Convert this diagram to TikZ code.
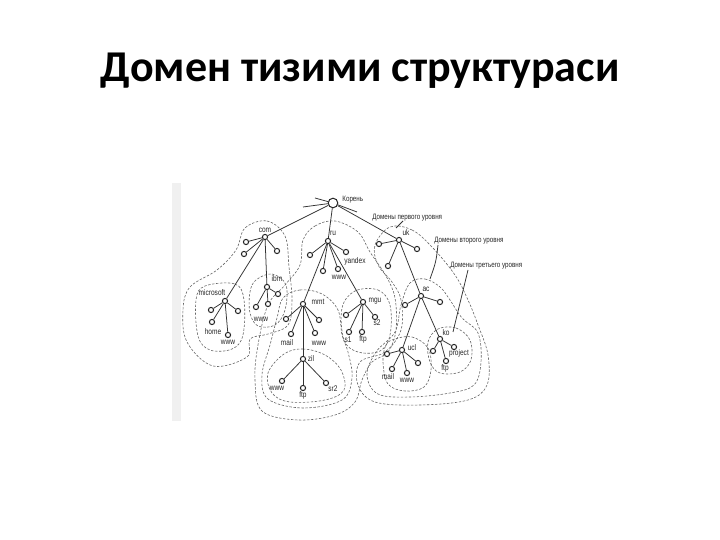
\documentclass[tikz,border=0pt]{standalone}
\usepackage{fontspec}
\setmainfont{Carlito}
\newfontfamily\lab[FakeStretch=0.8]{Liberation Sans}
\tikzset{
 dn/.style={circle,draw=black!85,line width=0.5pt,inner sep=0pt,minimum size=2.6pt,fill=white},
 rootn/.style={dn,minimum size=4.8pt},
 edge/.style={draw=black!80,line width=0.38pt},
 bnd/.style={draw=black!60,line width=0.3pt,dash pattern=on 1.2pt off 0.8pt},
 lbl/.style={font=\lab\fontsize{4.1}{4.5}\selectfont,inner sep=0pt,text=black!85},
 ann/.style={font=\lab\fontsize{3.9}{4.5}\selectfont,inner sep=0pt,text=black!85,anchor=west},
}
\begin{document}
\begin{tikzpicture}[x=0.5pt,y=-0.5pt]
\useasboundingbox (0,0) rectangle (720,540);
\fill[white] (0,0) rectangle (720,540);
\node[font=\bfseries\fontsize{22}{26}\selectfont,anchor=base] (title) at (360,82) {Домен тизими структураси};
% scan edge
\fill[black!6] (172,183) rectangle (181,421);

% boundaries
\draw[bnd] plot[smooth cycle,tension=0.6] coordinates {(245,228) (267,221) (285,236) (289,267) (292,300) (288,325) (268,334) (250,339) (247,357) (213,366) (187,342) (183,310) (190,287) (217,270) (236,250)};
\draw[bnd] plot[smooth cycle,tension=0.6] coordinates {(205,286) (235,284) (244,300) (243,335) (232,349) (210,350) (198,336) (196,300)};
\draw[bnd] plot[smooth cycle,tension=0.6] coordinates {(256,280) (272,274) (286,285) (285,310) (275,325) (258,326) (250,313) (250,292)};
\draw[bnd] plot[smooth cycle,tension=0.6] coordinates {(303,240) (315,226) (335,221) (358,232) (370,252) (386,276) (395,298) (396,330) (388,352) (372,362) (362,380) (355,402) (335,415) (298,420) (262,411) (255,380) (258,345) (268,305) (285,285) (300,265)};
\draw[bnd] plot[smooth cycle,tension=0.6] coordinates {(283,298) (300,290) (322,294) (338,310) (342,335) (348,352) (352,378) (342,400) (303,408) (268,399) (262,375) (270,345) (277,318)};
\draw[bnd] plot[smooth cycle,tension=0.6] coordinates {(284,354) (303,349) (325,355) (341,370) (344,390) (325,400) (290,402) (272,393) (268,373)};
\draw[bnd] plot[smooth cycle,tension=0.6] coordinates {(355,291) (378,290) (390,305) (390,335) (380,351) (358,352) (344,340) (342,308)};
\draw[bnd] plot[smooth cycle,tension=0.6] coordinates {(390,227) (412,230) (432,247) (455,275) (468,300) (478,325) (488,355) (487,385) (468,400) (420,405) (375,402) (358,385) (360,362) (385,352) (401,330) (401,300) (392,282) (378,265) (375,245)};
\draw[bnd] plot[smooth cycle,tension=0.6] coordinates {(410,283) (425,279) (440,287) (450,300) (462,318) (478,333) (481,362) (474,385) (450,393) (410,397) (378,394) (367,375) (376,352) (395,332) (401,305)};
\draw[bnd] plot[smooth cycle,tension=0.6] coordinates {(395,339) (412,337) (428,348) (431,370) (424,387) (405,391) (388,384) (383,362) (386,345)};
\draw[bnd] plot[smooth cycle,tension=0.6] coordinates {(438,329) (456,328) (470,340) (471,360) (460,372) (440,373) (430,362) (428,342)};

% nodes
\node[rootn] (root) at (333,203) {};
\node[dn] (com) at (265,237) {};
\node[dn] (ru) at (328,241) {};
\node[dn] (uk) at (399,240) {};
\node[dn] (c1) at (246,242) {};
\node[dn] (c2) at (244,254) {};
\node[dn] (c3) at (277,251) {};
\node[dn] (ms) at (225,301) {};
\node[dn] (ms1) at (211,310) {};
\node[dn] (ms2) at (238,311) {};
\node[dn] (ms3) at (212,322) {};
\node[dn] (ms4) at (228,335) {};
\node[dn] (ibm) at (267,287) {};
\node[dn] (ib1) at (256,307) {};
\node[dn] (ib2) at (268,304) {};
\node[dn] (ib3) at (278,294) {};
\node[dn] (r1) at (310,255) {};
\node[dn] (r2) at (323,271) {};
\node[dn] (r3) at (338,269) {};
\node[dn] (r4) at (346,252) {};
\node[dn] (mmt) at (303,304) {};
\node[dn] (m1) at (286,319) {};
\node[dn] (m2) at (319,320) {};
\node[dn] (m3) at (291,334) {};
\node[dn] (m4) at (315,333) {};
\node[dn] (zil) at (303,359) {};
\node[dn] (z1) at (282,381) {};
\node[dn] (z2) at (303,388) {};
\node[dn] (z3) at (326,383) {};
\node[dn] (mgu) at (363,302) {};
\node[dn] (g1) at (346,315) {};
\node[dn] (g2) at (375,317) {};
\node[dn] (g3) at (349,332) {};
\node[dn] (g4) at (362,332) {};
\node[dn] (u1) at (379,244) {};
\node[dn] (u2) at (417,249) {};
\node[dn] (u3) at (388,266) {};
\node[dn] (ac) at (421,296) {};
\node[dn] (a1) at (405,305) {};
\node[dn] (a2) at (440,302) {};
\node[dn] (ucl) at (402,350) {};
\node[dn] (l1) at (387,354) {};
\node[dn] (l2) at (418,363) {};
\node[dn] (l3) at (392,369) {};
\node[dn] (l4) at (407,373) {};
\node[dn] (ko) at (440,339) {};
\node[dn] (k1) at (433,351) {};
\node[dn] (k2) at (454,347) {};
\node[dn] (k3) at (446,361) {};

% stub ends
\coordinate (s1) at (303,207);
\coordinate (s2) at (315,198);
\coordinate (s3) at (357,212);

% edges
\draw[edge] (root) -- (s1);
\draw[edge] (root) -- (s2);
\draw[edge] (root) -- (s3);
\draw[edge] (root) -- (com);
\draw[edge] (root) -- (ru);
\draw[edge] (root) -- (uk);
\foreach \c in {c1,c2,c3,ms,ibm} \draw[edge] (com) -- (\c);
\foreach \c in {ms1,ms2,ms3,ms4} \draw[edge] (ms) -- (\c);
\foreach \c in {ib1,ib2,ib3} \draw[edge] (ibm) -- (\c);
\foreach \c in {r1,r2,r3,r4,mmt,mgu} \draw[edge] (ru) -- (\c);
\foreach \c in {m1,m2,m3,m4,zil} \draw[edge] (mmt) -- (\c);
\foreach \c in {z1,z2,z3} \draw[edge] (zil) -- (\c);
\foreach \c in {g1,g2,g3,g4} \draw[edge] (mgu) -- (\c);
\foreach \c in {u1,u2,u3,ac} \draw[edge] (uk) -- (\c);
\foreach \c in {a1,a2,ucl,ko} \draw[edge] (ac) -- (\c);
\foreach \c in {l1,l2,l3,l4} \draw[edge] (ucl) -- (\c);
\foreach \c in {k1,k2,k3} \draw[edge] (ko) -- (\c);

% labels
\node[lbl] (tcom) at (265,230) {com};
\node[lbl] (tru) at (333,233) {ru};
\node[lbl] (tuk) at (406,233) {uk};
\node[lbl] (tyan) at (355,261) {yandex};
\node[lbl] (trw) at (339,277) {www};
\node[lbl] (tibm) at (277,279) {ibm};
\node[lbl] (tibw) at (261,319) {www};
\node[lbl] (tms) at (212,293) {microsoft};
\node[lbl] (thome) at (213,332) {home};
\node[lbl] (tmsw) at (228,342) {www};
\node[lbl] (tmmt) at (318,302) {mmt};
\node[lbl] (tmm) at (287,343) {mail};
\node[lbl] (tmw) at (319,343) {www};
\node[lbl] (tzil) at (311,359) {zil};
\node[lbl] (tzw) at (277,388) {www};
\node[lbl] (tzf) at (303,395) {ftp};
\node[lbl] (tsr) at (333,389) {sr2};
\node[lbl] (tmgu) at (375,301) {mgu};
\node[lbl] (ts2) at (377,323) {s2};
\node[lbl] (ts1) at (348,340) {s1};
\node[lbl] (tgf) at (363,339) {ftp};
\node[lbl] (tac) at (426,289) {ac};
\node[lbl] (tucl) at (412,348) {ucl};
\node[lbl] (tlm) at (388,377) {mail};
\node[lbl] (tlw) at (407,380) {www};
\node[lbl] (tko) at (446,333) {ko};
\node[lbl] (tpr) at (459,353) {project};
\node[lbl] (tkf) at (445,368) {ftp};

\node[ann] (kor) at (342,200) {Корень};
\node[ann] (d1) at (372,218) {Домены первого уровня};
\node[ann] (d2) at (434,241) {Домены второго уровня};
\node[ann] (d3) at (450,266) {Домены третьего уровня};

\coordinate (e1) at (396,228);
\coordinate (e2) at (430,279);
\coordinate (e3) at (453,332);
\draw[edge] (403,221) -- (e1);
\draw[edge] (438,245) .. controls (436,262) .. (e2);
\draw[edge] (468,270) -- (e3);
\end{tikzpicture}
\end{document}
